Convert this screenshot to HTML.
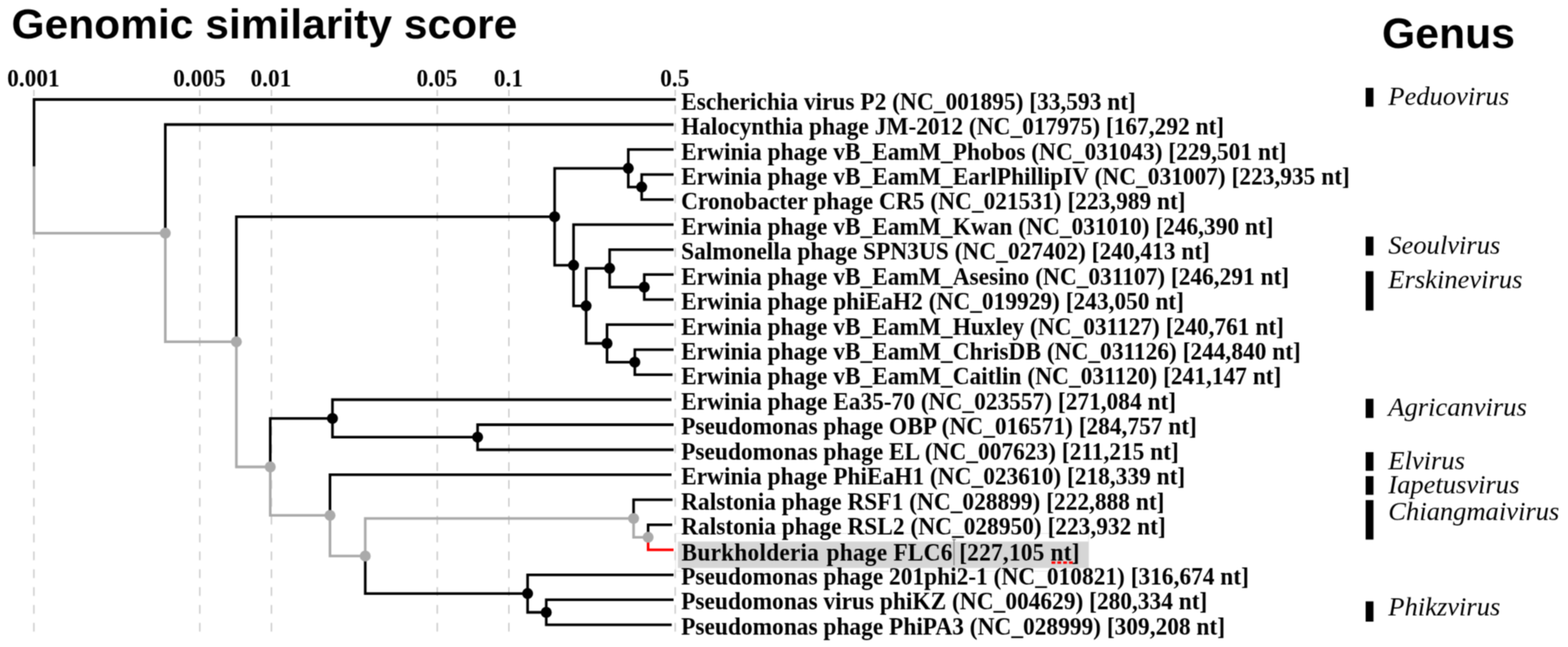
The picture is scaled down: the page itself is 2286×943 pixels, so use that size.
<!DOCTYPE html>
<html lang="en"><head><meta charset="utf-8">
<title>Genomic similarity score</title>
<style>
html,body{margin:0;padding:0;background:#fff;}
body{width:2286px;height:943px;overflow:hidden;}
svg{display:block;}
.t{font-family:"Liberation Sans",sans-serif;font-weight:bold;font-size:62px;fill:#000;}
.ax{font-family:"Liberation Serif",serif;font-weight:bold;font-size:34px;fill:#000;text-anchor:middle;}
.lf{font-family:"Liberation Serif",serif;font-weight:bold;font-size:34.0px;fill:#000;}
.gn{font-family:"Liberation Serif",serif;font-style:italic;font-size:38.7px;fill:#000;}
.grid line{stroke:#cacaca;stroke-width:2;stroke-dasharray:12.8 13.21;stroke-dashoffset:3.5;}
.br path{fill:none;stroke-width:3.8;stroke-linejoin:miter;stroke-linecap:butt;}
</style></head><body>
<svg width="2286" height="943" viewBox="0 0 2286 943">
<defs><filter id="soft" x="0" y="0" width="2286" height="943" filterUnits="userSpaceOnUse" color-interpolation-filters="sRGB"><feConvolveMatrix order="3" kernelMatrix="1 2 1 2 4 2 1 2 1" edgeMode="duplicate" preserveAlpha="true"/></filter></defs>
<g filter="url(#soft)">
<rect width="2286" height="943" fill="#fff"/>
<text class="t" x="16.7" y="56">Genomic similarity score</text>
<text class="t" x="2014.8" y="70" style="font-size:62.3px">Genus</text>
<g class="grid">
<line x1="49.4" y1="131" x2="49.4" y2="921.5"/>
<line x1="291.3" y1="131" x2="291.3" y2="921.5"/>
<line x1="395.7" y1="131" x2="395.7" y2="921.5"/>
<line x1="637.5" y1="131" x2="637.5" y2="921.5"/>
<line x1="741.9" y1="131" x2="741.9" y2="921.5"/>
<line x1="984.4" y1="131" x2="984.4" y2="921.5"/>
</g>
<g>
<text class="ax" transform="translate(48.8,125.7) scale(1,1.045)">0.001</text>
<text class="ax" transform="translate(290.7,125.7) scale(1,1.045)">0.005</text>
<text class="ax" transform="translate(395.1,125.7) scale(1,1.045)">0.01</text>
<text class="ax" transform="translate(636.9,125.7) scale(1,1.045)">0.05</text>
<text class="ax" transform="translate(741.3,125.7) scale(1,1.045)">0.1</text>
<text class="ax" transform="translate(983.8,125.7) scale(1,1.045)">0.5</text>
</g>
<g class="br">
<path d="M923.7 755.7V783.1H944.9" stroke="#aaaaaa"/>
<path d="M532.5 810.4V755.7H923.7" stroke="#aaaaaa"/>
<path d="M481.1 751.2V810.4H532.5" stroke="#aaaaaa"/>
<path d="M394.0 680.5V751.2H481.1" stroke="#aaaaaa"/>
<path d="M344.6 498.2V680.5H394.0" stroke="#aaaaaa"/>
<path d="M241.0 339.8V498.2H344.6" stroke="#aaaaaa"/>
<path d="M49.6 242.4V339.8H241.0" stroke="#aaaaaa"/>
<path d="M935.5 272.6V254.4H982.0" stroke="#000"/>
<path d="M935.5 272.6V290.8H982.0" stroke="#000"/>
<path d="M916.0 245.3V217.9H982.0" stroke="#000"/>
<path d="M916.0 245.3V272.6H935.5" stroke="#000"/>
<path d="M939.3 418.5V400.2H982.0" stroke="#000"/>
<path d="M939.3 418.5V436.7H982.0" stroke="#000"/>
<path d="M888.8 391.1V363.8H982.0" stroke="#000"/>
<path d="M888.8 391.1V418.5H939.3" stroke="#000"/>
<path d="M925.5 527.9V509.6H982.0" stroke="#000"/>
<path d="M925.5 527.9V546.1H980.5" stroke="#000"/>
<path d="M885.0 500.5V473.2H982.0" stroke="#000"/>
<path d="M885.0 500.5V527.9H925.5" stroke="#000"/>
<path d="M854.5 445.8V391.1H888.8" stroke="#000"/>
<path d="M854.5 445.8V500.5H885.0" stroke="#000"/>
<path d="M836.2 386.6V327.3H982.0" stroke="#000"/>
<path d="M836.2 386.6V445.8H854.5" stroke="#000"/>
<path d="M808.6 315.9V245.3H916.0" stroke="#000"/>
<path d="M808.6 315.9V386.6H836.2" stroke="#000"/>
<path d="M696.3 637.2V619.0H982.0" stroke="#000"/>
<path d="M696.3 637.2V655.5H982.0" stroke="#000"/>
<path d="M484.7 609.9V582.5H979.0" stroke="#000"/>
<path d="M484.7 609.9V637.2H696.3" stroke="#000"/>
<path d="M944.9 783.1V764.9H980.0" stroke="#000"/>
<path d="M923.7 755.7V728.4H980.5" stroke="#000"/>
<path d="M796.4 892.5V874.2H982.0" stroke="#000"/>
<path d="M796.4 892.5V910.7H979.3" stroke="#000"/>
<path d="M769.2 865.1V837.8H982.0" stroke="#000"/>
<path d="M769.2 865.1V892.5H796.4" stroke="#000"/>
<path d="M532.5 810.4V865.1H769.2" stroke="#000"/>
<path d="M481.1 751.2V691.9H979.0" stroke="#000"/>
<path d="M394.0 680.5V609.9H484.7" stroke="#000"/>
<path d="M344.6 498.2V315.9H808.6" stroke="#000"/>
<path d="M241.0 339.8V181.5H982.0" stroke="#000"/>
<path d="M49.6 242.4V145.0H985.2" stroke="#000"/>
<path d="M944.9 783.1V801.3H982.0" stroke="#ff0000"/>
</g>
<g>
<circle cx="935.5" cy="272.6" r="8.0" fill="#000"/>
<circle cx="916.0" cy="245.3" r="8.0" fill="#000"/>
<circle cx="939.3" cy="418.5" r="8.0" fill="#000"/>
<circle cx="888.8" cy="391.1" r="8.0" fill="#000"/>
<circle cx="925.5" cy="527.9" r="8.0" fill="#000"/>
<circle cx="885.0" cy="500.5" r="8.0" fill="#000"/>
<circle cx="854.5" cy="445.8" r="8.0" fill="#000"/>
<circle cx="836.2" cy="386.6" r="8.0" fill="#000"/>
<circle cx="808.6" cy="315.9" r="8.0" fill="#000"/>
<circle cx="696.3" cy="637.2" r="8.0" fill="#000"/>
<circle cx="484.7" cy="609.9" r="8.0" fill="#000"/>
<circle cx="944.9" cy="783.1" r="8.0" fill="#aaaaaa"/>
<circle cx="923.7" cy="755.7" r="8.0" fill="#aaaaaa"/>
<circle cx="796.4" cy="892.5" r="8.0" fill="#000"/>
<circle cx="769.2" cy="865.1" r="8.0" fill="#000"/>
<circle cx="532.5" cy="810.4" r="8.0" fill="#aaaaaa"/>
<circle cx="481.1" cy="751.2" r="8.0" fill="#aaaaaa"/>
<circle cx="394.0" cy="680.5" r="8.0" fill="#aaaaaa"/>
<circle cx="344.6" cy="498.2" r="8.0" fill="#aaaaaa"/>
<circle cx="241.0" cy="339.8" r="8.0" fill="#aaaaaa"/>
</g>
<rect x="985" y="777.5" width="602" height="55" fill="none" stroke="#e2e2e2" stroke-width="1"/>
<rect x="988.3" y="789.3" width="598.7" height="38.5" fill="#d6d6d6"/>
<path d="M1390.8 786.5V824M1388.5 786.5H1393.5" fill="none" stroke="#707070" stroke-width="1.3"/>
<path d="M1533 820H1564" fill="none" stroke="#ff0000" stroke-width="3.4" stroke-dasharray="5.6 2.9"/>
<g transform="translate(993.0,0) scale(1.0030,1.025)">
<text class="lf" x="0.0" y="156.20">Escherichia virus P2 (NC_001895) [33,593 nt]</text>
<text class="lf" x="0.0" y="191.32">Halocynthia phage JM-2012 (NC_017975) [167,292 nt]</text>
<text class="lf" x="0.0" y="227.41">Erwinia phage vB_EamM_Phobos (NC_031043) [229,501 nt]</text>
<text class="lf" x="0.0" y="262.54">Erwinia phage vB_EamM_EarlPhillipIV (NC_031007) [223,935 nt]</text>
<text class="lf" x="0.0" y="297.66">Cronobacter phage CR5 (NC_021531) [223,989 nt]</text>
<text class="lf" x="0.0" y="333.76">Erwinia phage vB_EamM_Kwan (NC_031010) [246,390 nt]</text>
<text class="lf" x="0.0" y="368.88">Salmonella phage SPN3US (NC_027402) [240,413 nt]</text>
<text class="lf" x="0.0" y="404.98">Erwinia phage vB_EamM_Asesino (NC_031107) [246,291 nt]</text>
<text class="lf" x="0.0" y="440.10">Erwinia phage phiEaH2 (NC_019929) [243,050 nt]</text>
<text class="lf" x="0.0" y="476.20">Erwinia phage vB_EamM_Huxley (NC_031127) [240,761 nt]</text>
<text class="lf" x="0.0" y="511.32">Erwinia phage vB_EamM_ChrisDB (NC_031126) [244,840 nt]</text>
<text class="lf" x="0.0" y="546.44">Erwinia phage vB_EamM_Caitlin (NC_031120) [241,147 nt]</text>
<text class="lf" x="0.0" y="582.54">Erwinia phage Ea35-70 (NC_023557) [271,084 nt]</text>
<text class="lf" x="0.0" y="617.66">Pseudomonas phage OBP (NC_016571) [284,757 nt]</text>
<text class="lf" x="0.0" y="653.76">Pseudomonas phage EL (NC_007623) [211,215 nt]</text>
<text class="lf" x="0.0" y="688.88">Erwinia phage PhiEaH1 (NC_023610) [218,339 nt]</text>
<text class="lf" x="0.0" y="724.98">Ralstonia phage RSF1 (NC_028899) [222,888 nt]</text>
<text class="lf" x="0.0" y="760.10">Ralstonia phage RSL2 (NC_028950) [223,932 nt]</text>
<text class="lf" x="0.0" y="831.32">Pseudomonas phage 201phi2-1 (NC_010821) [316,674 nt]</text>
<text class="lf" x="0.0" y="866.44">Pseudomonas virus phiKZ (NC_004629) [280,334 nt]</text>
<text class="lf" x="0.0" y="902.54">Pseudomonas phage PhiPA3 (NC_028999) [309,208 nt]</text>
</g>
<g transform="scale(1,1.025)"><text class="lf" y="797.17" style="font-size:34.1px;letter-spacing:0.3px"><tspan x="993.6">Burkholderia </tspan><tspan x="1205.0">phage </tspan><tspan x="1302.4">FLC6 </tspan><tspan x="1398.4">[227,105 </tspan><tspan x="1531.6">nt]</tspan></text></g>
<g>
<rect x="1991" y="128.0" width="11.4" height="27.5" fill="#000"/>
<text class="gn" x="2024" y="152.7">Peduovirus</text>
<rect x="1991" y="344.8" width="11.4" height="27.6" fill="#000"/>
<text class="gn" x="2024" y="369.8">Seoulvirus</text>
<rect x="1991" y="395.3" width="11.4" height="57.3" fill="#000"/>
<text class="gn" x="2024" y="420.1">Erskinevirus</text>
<rect x="1991" y="581.2" width="11.4" height="28.0" fill="#000"/>
<text class="gn" x="2024" y="606.2">Agricanvirus</text>
<rect x="1991" y="659.0" width="11.4" height="27.2" fill="#000"/>
<text class="gn" x="2024" y="683.6">Elvirus</text>
<rect x="1991" y="694.0" width="11.4" height="27.2" fill="#000"/>
<text class="gn" x="2024" y="718.6">Iapetusvirus</text>
<rect x="1991" y="728.9" width="11.4" height="57.5" fill="#000"/>
<text class="gn" x="2024" y="757.8">Chiangmaivirus</text>
<rect x="1991" y="876.5" width="11.4" height="29.5" fill="#000"/>
<text class="gn" x="2024" y="896.7">Phikzvirus</text>
</g>
</g>
</svg>
</body></html>
